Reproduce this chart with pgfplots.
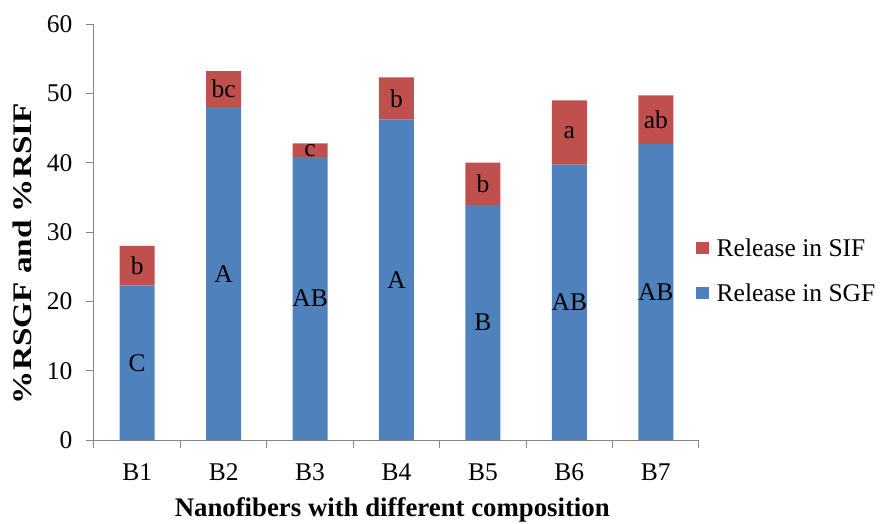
\documentclass[border=0pt]{standalone}
\usepackage{fontspec}
\setmainfont{Liberation Serif}
\usepackage{pgfplots}
\usepackage{pgfplotstable}
\pgfplotsset{compat=1.18}

\definecolor{sgfblue}{RGB}{79,129,189}
\definecolor{sifred}{RGB}{192,80,77}
\definecolor{axisgray}{RGB}{134,134,134}

% Release (%) in simulated gastric (SGF) and intestinal (SIF) fluid
\pgfplotstableread{
x sgf  sif lsgf lsif
1 22.3 5.7 C    b
2 48.0 5.2 A    bc
3 40.8 2.0 AB   c
4 46.2 6.1 A    b
5 33.9 6.1 B    b
6 39.7 9.3 AB   a
7 42.7 7.0 AB   ab
}\release

\newcommand{\chartfont}{\fontsize{25.5}{30}\selectfont}
\newcommand{\titlefont}{\fontsize{26.8}{30}\selectfont\bfseries}

\pgfplotsset{
  common/.style={
    width=605pt, height=416pt, scale only axis,
    at={(0pt,0pt)}, anchor=south west,
    xmin=0.5, xmax=7.5, ymin=0, ymax=60,
  }
}

\begin{document}
\begin{tikzpicture}
\path[use as bounding box] (-94pt,-83pt) rectangle (789pt,440pt);
\begin{axis}[
  common,
  ybar stacked,
  bar width=35pt,
  axis x line*=bottom,
  axis y line*=left,
  axis line style={axisgray, line width=1pt},
  tick style={axisgray, line width=1pt},
  tick align=outside,
  major tick length=8pt,
  xtick={0.5,1.5,...,7.5},
  xticklabels={},
  extra x ticks={1,2,3,4,5,6,7},
  extra x tick labels={B1,B2,B3,B4,B5,B6,B7},
  extra x tick style={major tick length=0pt},
  ytick={0,10,...,60},
  /pgf/number format/assume math mode=true,
  tick label style={font=\chartfont, text=black},
  xticklabel style={yshift=-20pt},
  yticklabel style={xshift=-10pt},
  xlabel={Nanofibers with different composition},
  ylabel={\scalebox{1.24}[1]{\%RSGF and \%RSIF}},
  xlabel style={font=\titlefont, at={(axis description cs:0.493,-0.1835)}, anchor=base},
  ylabel style={font=\titlefont, at={(axis description cs:-0.118,0.448)}, anchor=center, rotate=0},
  legend image code/.code={\fill[#1] (0pt,-6pt) rectangle (12.5pt,6pt);},
  reverse legend,
  legend cell align=left,
  legend style={at={(0.995,0.407)}, anchor=west, draw=none, fill=none,
    font=\chartfont, inner xsep=0pt, row sep=22pt,
    /tikz/every odd column/.append style={column sep=6pt}},
]
\addplot[fill=sgfblue, draw=none] table[x=x, y=sgf]{\release};
\addplot[fill=sifred, draw=none] table[x=x, y=sif]{\release};
\legend{Release in SGF, Release in SIF}
\end{axis}

% letters of significance, centred in each segment
\begin{axis}[common, hide axis]
\addplot[draw=none, nodes near coords, point meta=explicit symbolic,
  every node near coord/.style={anchor=center, font=\chartfont, text=black}]
  table[x=x, y expr=\thisrow{sgf}/2, meta=lsgf]{\release};
\addplot[draw=none, nodes near coords, point meta=explicit symbolic,
  every node near coord/.style={anchor=center, font=\chartfont, text=black}]
  table[x=x, y expr=\thisrow{sgf}+\thisrow{sif}/2, meta=lsif]{\release};
\end{axis}
\end{tikzpicture}
\end{document}
